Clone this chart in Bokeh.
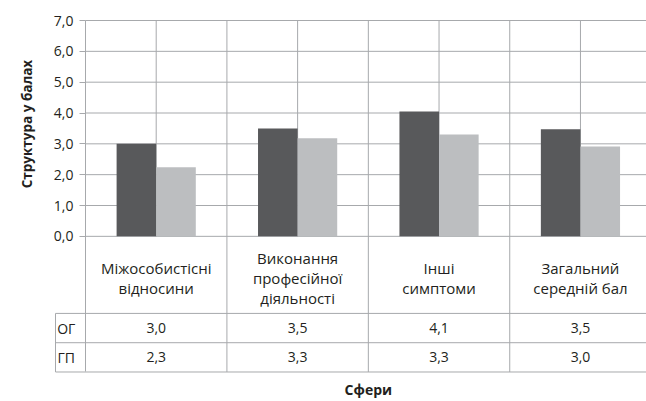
import math
from bokeh.plotting import figure
from bokeh.models import Range1d, LinearAxis, FixedTicker, Label
from bokeh.core.properties import value
from bokeh.embed import file_html
from bokeh.resources import INLINE

# ---- data ----
categories = ["Міжособистісні\nвідносини", "Виконання\nпрофесійної\nдіяльності",
              "Інші\nсимптоми", "Загальний\nсередній бал"]
series_names = ["ОГ", "ГП"]
og_values = [3.0, 3.5, 4.05, 3.47]
gp_values = [2.24, 3.18, 3.30, 2.91]
og_labels = ["3,0", "3,5", "4,1", "3,5"]
gp_labels = ["2,3", "3,3", "3,3", "3,0"]
y_ticks = [0, 1, 2, 3, 4, 5, 6, 7]
y_tick_labels = ["0,0", "1,0", "2,0", "3,0", "4,0", "5,0", "6,0", "7,0"]
y_title = "Структура у балах"
x_title = "Сфери"

# ---- layout constants ----
FONT = "Open Sans"
DARK = "#58595b"
LIGHT = "#bcbec0"
GRID = "#a7a9ac"
TXT = "#231f20"
BAR_W = 0.28
LABEL_ZONE = 2.5      # height of category-label zone (data units below 0)
ROW_H = 0.95          # table row height
TABLE_LEFT = -0.212

n = len(categories)
idx = list(range(n))
y_max = y_ticks[-1]
table_top = -LABEL_ZONE
row1 = table_top - ROW_H / 2
row2 = table_top - ROW_H * 1.5
table_bot = table_top - 2 * ROW_H

# the frame covers the whole canvas; axis drawn at x = 0 inside it
p = figure(width=646, height=401,
           x_range=Range1d(-0.601, 3.967), y_range=Range1d(-5.357, 7.649),
           output_backend="svg", toolbar_location=None,
           x_axis_location=None, y_axis_location=None,
           min_border_left=0, min_border_right=0, min_border_top=0, min_border_bottom=0)
p.outline_line_color = None
p.grid.visible = False
p.background_fill_color = "white"

# horizontal gridlines (incl. baseline)
p.segment(x0=[0] * len(y_ticks), x1=[n] * len(y_ticks), y0=y_ticks, y1=y_ticks,
          line_color=GRID, line_width=1)
# mid-category vertical gridlines (plot area only)
p.segment(x0=[i + 0.5 for i in idx], x1=[i + 0.5 for i in idx],
          y0=[0] * n, y1=[y_max] * n, line_color=GRID, line_width=1)
# category boundaries extend through label zone and table
p.segment(x0=[i + 1 for i in idx], x1=[i + 1 for i in idx],
          y0=[table_bot] * n, y1=[y_max] * n, line_color=GRID, line_width=1)
# table horizontal lines
tl = [table_top, table_top - ROW_H, table_bot]
p.segment(x0=[TABLE_LEFT] * 3, x1=[n] * 3, y0=tl, y1=tl, line_color=GRID, line_width=1)
p.segment(x0=[TABLE_LEFT], x1=[TABLE_LEFT], y0=[table_top], y1=[table_bot],
          line_color=GRID, line_width=1)

# bars
p.vbar(x=[i + 0.5 - BAR_W / 2 for i in idx], top=og_values, width=BAR_W,
       fill_color=DARK, line_color=None)
p.vbar(x=[i + 0.5 + BAR_W / 2 for i in idx], top=gp_values, width=BAR_W,
       fill_color=LIGHT, line_color=None)

# category labels
p.text(x=[i + 0.5 for i in idx], y=[-1.35] * n, text=categories,
       text_align="center", text_baseline="middle", text_font=value(FONT),
       text_font_size="15px", text_color=TXT, text_line_height=1.0)

# table values
p.text(x=[i + 0.5 for i in idx], y=[row1] * n, text=og_labels,
       text_align="center", text_baseline="middle", text_font=value(FONT),
       text_font_size="14px", text_color=TXT)
p.text(x=[i + 0.5 for i in idx], y=[row2] * n, text=gp_labels,
       text_align="center", text_baseline="middle", text_font=value(FONT),
       text_font_size="14px", text_color=TXT)
# row headers
p.text(x=[TABLE_LEFT / 2 - 0.03] * 2, y=[row1, row2], text=series_names,
       text_align="center", text_baseline="middle", text_font=value(FONT),
       text_font_size="14px", text_color=TXT)

# y axis at x = 0
yaxis = LinearAxis(ticker=FixedTicker(ticks=y_ticks), fixed_location=0,
                   bounds=(table_bot, y_max))
yaxis.major_label_overrides = {t: l for t, l in zip(y_ticks, y_tick_labels)}
yaxis.axis_line_color = GRID
yaxis.major_tick_line_color = GRID
yaxis.major_tick_out = 6
yaxis.major_tick_in = 0
yaxis.minor_tick_out = 0
yaxis.minor_tick_in = 0
yaxis.major_label_standoff = 6
yaxis.major_label_text_font = FONT
yaxis.major_label_text_font_size = "14px"
yaxis.major_label_text_color = TXT
p.add_layout(yaxis, "left")

# axis titles
p.add_layout(Label(x=-0.417, y=y_max / 2 + 0.14, text=y_title, angle=math.pi / 2,
                   text_align="center", text_baseline="middle", text_font=FONT,
                   text_font_size="13.5px", text_font_style="bold", text_color=TXT))
p.add_layout(Label(x=n / 2, y=table_bot - 0.56, text=x_title, text_align="center",
                   text_baseline="middle", text_font=FONT, text_font_size="14px",
                   text_font_style="bold", text_color=TXT))

open("out.html", "w").write(file_html(p, INLINE))
